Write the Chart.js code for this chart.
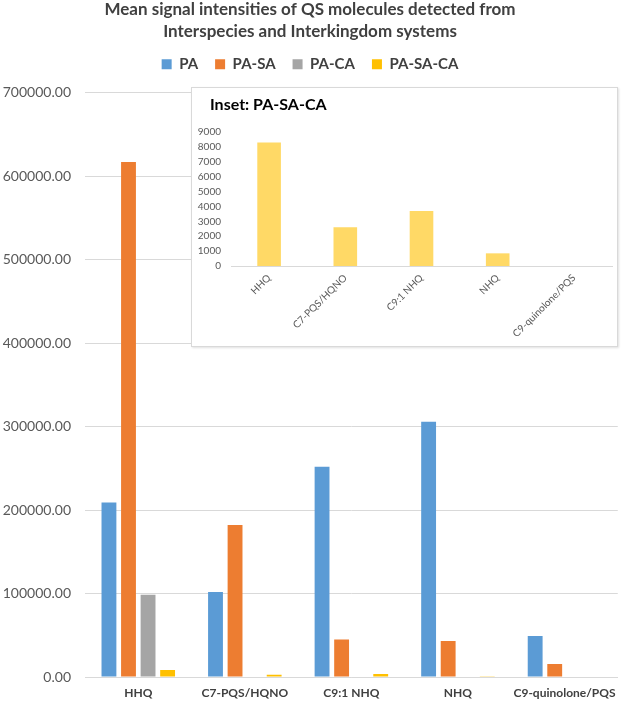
<!DOCTYPE html>
<html>
<head>
<meta charset="utf-8">
<script src="https://cdn.jsdelivr.net/npm/chart.js@4.4.1/dist/chart.umd.min.js"></script>
<style>
  html, body { margin: 0; padding: 0; background: #fff; }
  #wrap { position: relative; width: 625px; height: 702px; }
  #inset {
    position: absolute; left: 191px; top: 87px; width: 427px; height: 260px;
    box-sizing: border-box; border: 1px solid #d9d9d9; background: #fff;
    box-shadow: 1px 1px 2px rgba(0, 0, 0, 0.12);
  }
  #insetTitle {
    position: absolute; left: 18px; top: 6px; margin: 0;
    font: bold 16px/20px Lato, "Open Sans", sans-serif; color: #000;
  }
  #insetChart { position: absolute; left: 0; top: 0; }
</style>
</head>
<body>
<div id="wrap">
  <canvas id="main" width="625" height="702"></canvas>
  <div id="inset">
    <canvas id="insetChart" width="425" height="258"></canvas>
    <div id="insetTitle"></div>
  </div>
</div>
<script>
// values
const categories = ['HHQ', 'C7-PQS/HQNO', 'C9:1 NHQ', 'NHQ', 'C9-quinolone/PQS'];
const paValues = [209000, 102000, 252000, 306000, 49000];
const paSaValues = [617000, 182000, 45000, 43000, 15500];
const paCaValues = [98500, 0, 0, 0, 0];
const paSaCaValues = [8300, 2600, 3700, 850, 0];

const titleLines = ['Mean signal intensities of QS molecules detected from', 'Interspecies and Interkingdom systems'];
const insetTitle = 'Inset: PA-SA-CA';
const mainMax = 700000, mainStep = 100000;
const insetMax = 9000, insetStep = 1000;

Chart.defaults.font.family = 'Lato, "Open Sans", sans-serif';
document.getElementById('insetTitle').textContent = insetTitle;

// extra room between the legend and the plot
const legendGap = {
  id: 'legendGap',
  beforeInit(chart) {
    const fitLegend = chart.legend.fit;
    chart.legend.fit = function() {
      fitLegend.bind(chart.legend)();
      this.height += 11;
    };
  }
};

new Chart(document.getElementById('main'), {
  type: 'bar',
  data: {
    labels: categories,
    datasets: [
      { label: 'PA', data: paValues, backgroundColor: '#5B9BD5' },
      { label: 'PA-SA', data: paSaValues, backgroundColor: '#ED7D31' },
      { label: 'PA-CA', data: paCaValues, backgroundColor: '#A5A5A5' },
      { label: 'PA-SA-CA', data: paSaCaValues, backgroundColor: '#FFC000' }
    ]
  },
  options: {
    responsive: false,
    animation: false,
    layout: { padding: { left: 0, right: 5, top: 0, bottom: 0 } },
    datasets: { bar: { categoryPercentage: 0.734, barPercentage: 0.76 } },
    plugins: {
      title: {
        display: true,
        text: titleLines,
        color: '#404040',
        font: { size: 17, weight: 'bold', lineHeight: 1.26 },
        padding: { top: -1, bottom: -2 }
      },
      legend: {
        labels: {
          boxWidth: 10,
          boxHeight: 10,
          padding: 17,
          color: '#404040',
          font: { size: 15, weight: 'bold' }
        }
      },
      tooltip: { enabled: false }
    },
    scales: {
      x: {
        grid: { display: false, drawTicks: false },
        border: { color: '#d9d9d9' },
        ticks: {
          color: '#404040',
          font: { size: 12, weight: 'bold' },
          padding: 9,
          maxRotation: 0,
          autoSkip: false
        },
        afterFit: function(axis) { axis.height = 25; }
      },
      y: {
        min: 0,
        max: mainMax,
        ticks: {
          stepSize: mainStep,
          padding: 14,
          color: '#595959',
          font: { size: 14 },
          callback: function(value) { return value.toFixed(2); }
        },
        grid: { color: '#d9d9d9', drawTicks: false },
        border: { display: false },
        afterFit: function(axis) { axis.width = 85; }
      }
    }
  },
  plugins: [legendGap]
});

new Chart(document.getElementById('insetChart'), {
  type: 'bar',
  data: {
    labels: categories,
    datasets: [
      { label: 'PA-SA-CA', data: paSaCaValues, backgroundColor: '#FFD966' }
    ]
  },
  options: {
    responsive: false,
    animation: false,
    layout: { padding: { left: 4, right: 5, top: 44, bottom: 0 } },
    datasets: { bar: { categoryPercentage: 1, barPercentage: 0.31 } },
    plugins: {
      legend: { display: false },
      title: { display: false },
      tooltip: { enabled: false }
    },
    scales: {
      x: {
        grid: { display: false, drawTicks: false },
        border: { color: '#d9d9d9' },
        ticks: {
          color: '#595959',
          font: { size: 10 },
          minRotation: 45,
          maxRotation: 45,
          autoSkip: false,
          padding: 6
        },
        afterFit: function(axis) { axis.height = 80; }
      },
      y: {
        min: 0,
        max: insetMax,
        ticks: {
          stepSize: insetStep,
          autoSkip: false,
          padding: 10,
          color: '#595959',
          font: { size: 10, lineHeight: 1 },
          callback: function(value) { return String(value); }
        },
        grid: { display: false, drawTicks: false },
        border: { display: false },
        afterFit: function(axis) { axis.width = 35; }
      }
    }
  }
});
</script>
</body>
</html>
